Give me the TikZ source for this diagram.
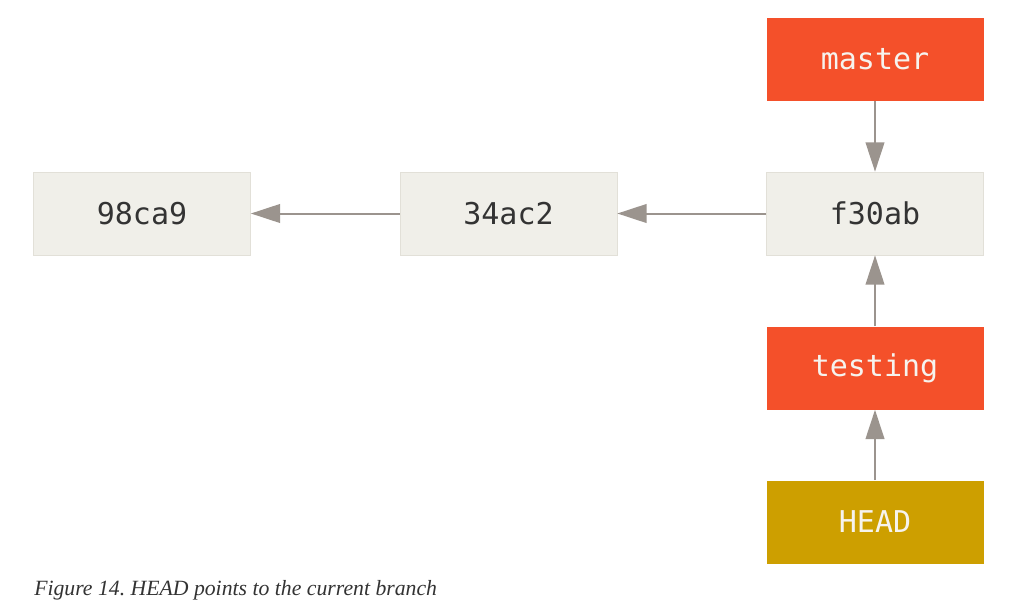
\documentclass[tikz,border=0pt]{standalone}
\usepackage{fontspec}
\setmainfont{Liberation Serif}
\setmonofont{DejaVu Sans Mono}
\usetikzlibrary{arrows.meta}
\definecolor{commitfill}{HTML}{F0EFE9}
\definecolor{commitline}{HTML}{E2E0D8}
\definecolor{branchred}{HTML}{F4502A}
\definecolor{headgold}{HTML}{CD9F00}
\definecolor{arrowgray}{HTML}{9B948E}
\definecolor{textdark}{HTML}{333333}
\definecolor{textlight}{HTML}{F6F3EE}
\frenchspacing
\begin{document}
\begin{tikzpicture}[
			x = 0.75pt, y = -0.75pt,
			box/.style = {minimum width=162.75pt, minimum height=62.25pt, inner sep=0pt,
				font=\ttfamily\fontsize{22.5}{26}\selectfont},
			commit/.style = {box, fill=commitfill, draw=commitline, line width=0.5pt, text=textdark},
			branch/.style = {box, fill=branchred, text=textlight},
			head/.style = {box, fill=headgold, text=textlight},
			ptr/.style = {-{Triangle[length=22pt,width=14pt]}, arrowgray, line width=1.5pt}
			]

			\useasboundingbox (0,0) rectangle (1017,603);

			% commits
			\node[commit] (c1) at (142,213.5) {98ca9};
			\node[commit] (c2) at (508.5,213.5) {34ac2};
			\node[commit] (c3) at (875,213.5) {f30ab};

			% branches and HEAD
			\node[branch] (master) at (875,59.5) {master};
			\node[branch] (testing) at (875,368) {testing};
			\node[head] (head) at (875,522) {HEAD};

			\draw[ptr] (c2) -- (c1);
			\draw[ptr] (c3) -- (c2);
			\draw[ptr] (master) -- (c3);
			\draw[ptr] (testing) -- (c3);
			\draw[ptr] (head) -- (testing);

			\node[anchor=base west, text=textdark, inner sep=0pt,
				font=\itshape\fontsize{16.3}{19}\selectfont] (caption) at (34,595)
				{Figure 14. HEAD points to the current branch};

		\end{tikzpicture}
\end{document}
